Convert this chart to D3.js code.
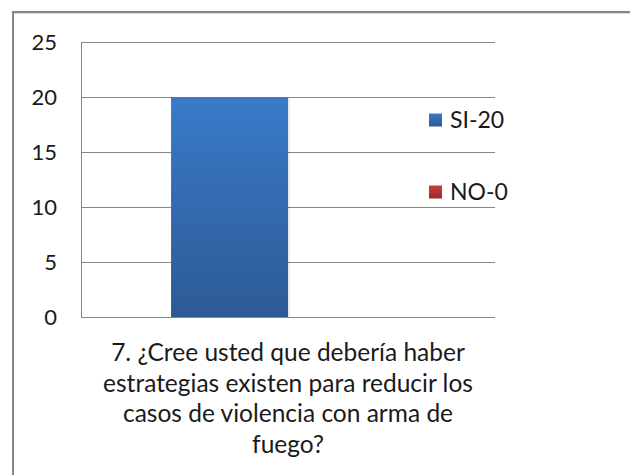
<!DOCTYPE html>
<html><head><meta charset="utf-8">
<script src="https://cdn.jsdelivr.net/npm/d3@7"></script>
<style>
html,body{margin:0;padding:0;background:#fff;}
svg{display:block;}
text{font-family:"Lato","Open Sans",sans-serif;fill:#1a1a1a;}
</style></head>
<body>
<svg id="c" width="630" height="475"></svg>
<script>
const categories = ["7. ¿Cree usted que debería haber estrategias existen para reducir los casos de violencia con arma de fuego?"];
const categoryLines = ["7. ¿Cree usted que debería haber", "estrategias existen para reducir los", "casos de violencia con arma de", "fuego?"];
const seriesNames = ["SI-20", "NO-0"];
const seriesValues = [20, 0];
const yTicks = [0, 5, 10, 15, 20, 25];

const svg = d3.select("#c");
const defs = svg.append("defs");
const gBlue = defs.append("linearGradient").attr("id","gb").attr("x1",0).attr("y1",0).attr("x2",0).attr("y2",1);
gBlue.append("stop").attr("offset","0%").attr("stop-color","#3a7ac9");
gBlue.append("stop").attr("offset","100%").attr("stop-color","#2c5a95");
const gRed = defs.append("linearGradient").attr("id","gr").attr("x1",0).attr("y1",0).attr("x2",0).attr("y2",1);
gRed.append("stop").attr("offset","0%").attr("stop-color","#cd3d3a");
gRed.append("stop").attr("offset","100%").attr("stop-color","#9b2b29");
const fills = ["url(#gb)", "url(#gr)"];

// outer frame
svg.append("rect").attr("x",13).attr("y",13.5).attr("width",700).attr("height",600)
  .attr("fill","none").attr("stroke","#d9d9d9").attr("stroke-width",1);
svg.append("rect").attr("x",13).attr("y",12).attr("width",700).attr("height",600)
  .attr("fill","none").attr("stroke","#868686").attr("stroke-width",2);

const pLeft = 81, pRight = 495, pTop = 42, pBottom = 317;
const y = d3.scaleLinear().domain([0,25]).range([pBottom, pTop]);
const x0 = d3.scaleBand().domain(categories).range([pLeft, pRight]).paddingInner(0).paddingOuter(0.385);
const x1 = d3.scaleBand().domain(seriesNames).range([0, x0.bandwidth()]);

// gridlines
const yAxis = d3.axisLeft(y).tickValues(yTicks).tickSize(-(pRight-pLeft)).tickPadding(24).tickFormat(d3.format("d"));
const ga = svg.append("g").attr("transform",`translate(${pLeft},0)`).call(yAxis);
ga.select(".domain").remove();
ga.selectAll(".tick line").attr("stroke","#878787").attr("stroke-width",1).attr("shape-rendering","crispEdges");
ga.selectAll(".tick text").attr("font-size",22).attr("fill","#1a1a1a").attr("font-family","Lato").attr("dy","0.36em");
// vertical axis line
svg.append("line").attr("x1",pLeft+0.5).attr("x2",pLeft+0.5).attr("y1",pTop).attr("y2",pBottom)
  .attr("stroke","#878787").attr("stroke-width",1);

// bars
const bars = svg.append("g");
seriesNames.forEach((s,i)=>{
  const v = seriesValues[i];
  const bx = x0(categories[0]) + x1(s);
  if (v > 0) {
    bars.append("rect").attr("x",bx+2).attr("y",y(v)+1).attr("width",x1.bandwidth()).attr("height",y(0)-y(v)-1)
      .attr("fill","#000").attr("opacity",0.08);
  }
  bars.append("rect").attr("x",bx).attr("y",y(v)).attr("width",x1.bandwidth()).attr("height",y(0)-y(v))
    .attr("fill",fills[i]);
});

// category label
const cx = x0(categories[0]) + x0.bandwidth()/2;
const lab = svg.append("text").attr("text-anchor","middle").attr("font-size",24.5);
categoryLines.forEach((l,i)=>{
  lab.append("tspan").attr("x",cx).attr("y",361 + i*30.7).text(l);
});

// legend
const leg = svg.append("g");
const legY = [120, 192];
seriesNames.forEach((s,i)=>{
  leg.append("rect").attr("x",429).attr("y",legY[i]-6.5).attr("width",13).attr("height",13).attr("fill",fills[i]);
  leg.append("text").attr("x",450).attr("y",legY[i]).attr("dy","0.36em").attr("font-size",23).text(s);
});
</script>
</body></html>
